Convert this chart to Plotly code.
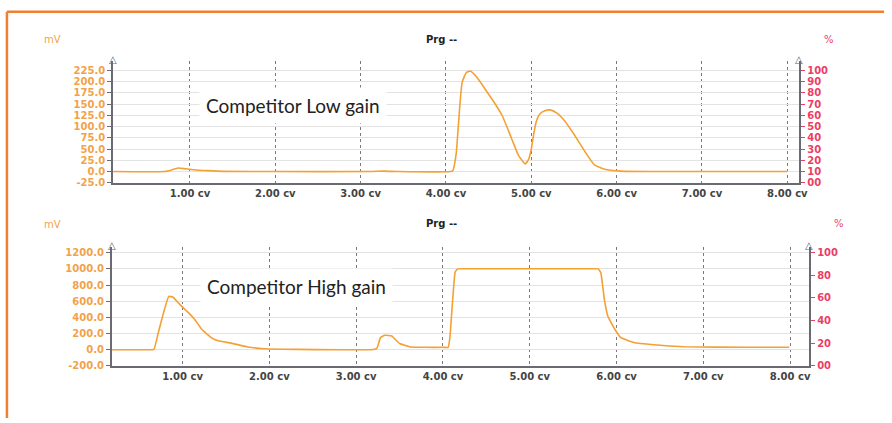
import plotly.graph_objects as go

W, H = 892, 423

# ---- data: Competitor Low gain (top) ----
low_cv = [0.10, 0.70, 0.78, 0.86, 0.95, 1.04, 1.21, 1.40, 2.00, 3.10, 3.27, 3.45,
          4.05, 4.08, 4.12, 4.14, 4.19, 4.24, 4.29, 4.36, 4.46, 4.56, 4.66, 4.77,
          4.85, 4.93, 4.97, 5.00, 5.03, 5.06, 5.10, 5.16, 5.22, 5.30, 5.39, 5.51,
          5.63, 5.74, 5.86, 6.05, 6.50, 8.00]
low_mv = [0, 0, 3, 8, 6, 4, 2, 0.5, 0, 0, 1, 0,
          0, 2, 40, 88, 198, 220, 223, 210, 183, 155, 124, 73,
          36, 17, 28, 50, 85, 112, 128, 135, 137, 130, 113, 80,
          44, 15, 5, 1, 0, 0]

# ---- data: Competitor High gain (bottom) ----
high_cv = [0.18, 0.60, 0.67, 0.72, 0.78, 0.84, 0.89, 0.97, 1.07, 1.14, 1.22, 1.33,
           1.41, 1.56, 1.75, 1.94, 2.30, 3.20, 3.24, 3.28, 3.33, 3.41, 3.50, 3.62,
           3.80, 4.00, 4.06, 4.08, 4.14, 4.17, 4.22, 4.40, 5.00, 5.60, 5.76, 5.79,
           5.82, 5.86, 5.90, 5.98, 6.05, 6.20, 6.43, 6.78, 7.50, 7.99]
high_mv = [0, 0, 5, 211, 456, 660, 650, 558, 456, 375, 253, 150,
           110, 82, 35, 12, 5, 2, 20, 150, 180, 170, 77, 35,
           30, 30, 30, 150, 960, 1000, 1002, 1002, 1002, 1002, 1002, 1000,
           950, 619, 415, 253, 150, 89, 61, 37, 30, 30]

x_ticks = [1, 2, 3, 4, 5, 6, 7, 8]
x_tick_text = ["1.00 cv", "2.00 cv", "3.00 cv", "4.00 cv", "5.00 cv", "6.00 cv", "7.00 cv", "8.00 cv"]
low_y_ticks = [-25, 0, 25, 50, 75, 100, 125, 150, 175, 200, 225]
low_y_text = ["-25.0", "0.0", "25.0", "50.0", "75.0", "100.0", "125.0", "150.0", "175.0", "200.0", "225.0"]
low_pct_ticks = [0, 10, 20, 30, 40, 50, 60, 70, 80, 90, 100]
low_pct_text = ["00", "10", "20", "30", "40", "50", "60", "70", "80", "90", "100"]
high_y_ticks = [-200, 0, 200, 400, 600, 800, 1000, 1200]
high_y_text = ["-200.0", "0.0", "200.0", "400.0", "600.0", "800.0", "1000.0", "1200.0"]
high_pct_ticks = [0, 20, 40, 60, 80, 100]
high_pct_text = ["00", "20", "40", "60", "80", "100"]

LINE = "#F5A033"
ORANGE_TXT = "#F2A24A"
PINK = "#EC3D66"
AXIS = "#6A6A72"
GRID = "#E3E3E3"
VGRID = "#7A7A7A"
FONT = "DejaVu Sans"

def px_x(p):
    return p / W

def px_y(p):
    return 1 - p / H

fig = go.Figure()
fig.add_trace(go.Scatter(x=low_cv, y=low_mv, mode="lines", xaxis="x", yaxis="y",
                         line=dict(color=LINE, width=1.6, shape="spline", smoothing=0.5),
                         hoverinfo="skip", showlegend=False))
fig.add_trace(go.Scatter(x=high_cv, y=high_mv, mode="lines", xaxis="x2", yaxis="y3",
                         line=dict(color=LINE, width=1.6, shape="spline", smoothing=0.3),
                         hoverinfo="skip", showlegend=False))
# invisible traces so that the right-hand % axes are drawn
fig.add_trace(go.Scatter(x=[low_cv[0]], y=[low_pct_ticks[0]], mode="markers", xaxis="x", yaxis="y2",
                         marker=dict(opacity=0), hoverinfo="skip", showlegend=False))
fig.add_trace(go.Scatter(x=[high_cv[0]], y=[high_pct_ticks[0]], mode="markers", xaxis="x2", yaxis="y4",
                         marker=dict(opacity=0), hoverinfo="skip", showlegend=False))

xcommon = dict(showgrid=True, gridcolor=VGRID, griddash="dot", gridwidth=1,
               showline=True, linecolor=AXIS, linewidth=1.5, zeroline=False,
               tickvals=x_ticks, ticktext=x_tick_text, ticks="",
               tickfont=dict(family=FONT, size=10, color="#444", weight="bold"))
ycommon = dict(showgrid=True, gridcolor=GRID, gridwidth=1, zeroline=False,
               showline=True, linecolor=AXIS, linewidth=1.5,
               ticks="outside", ticklen=4, tickcolor=AXIS,
               tickfont=dict(family=FONT, size=10, color=ORANGE_TXT, weight="bold"))
rcommon = dict(showgrid=False, zeroline=False, showline=True, linecolor=AXIS, linewidth=1.5,
               ticks="outside", ticklen=4, tickcolor=PINK, side="right",
               tickfont=dict(family=FONT, size=10, color=PINK, weight="bold"))

top_dom_x = [px_x(114), px_x(806.7)]
top_dom_y = [px_y(185), px_y(62)]
bot_dom_x = [px_x(112.7), px_x(816.7)]
bot_dom_y = [px_y(370.3), px_y(250)]

fig.update_layout(
    width=W, height=H, margin=dict(l=0, r=0, t=0, b=0),
    paper_bgcolor="white", plot_bgcolor="white",
    xaxis=dict(xcommon, domain=top_dom_x, range=[0.0976, 8.143], anchor="y"),
    yaxis=dict(ycommon, domain=top_dom_y, range=[-25, 245], tickvals=low_y_ticks,
               ticktext=low_y_text, anchor="x"),
    yaxis2=dict(rcommon, overlaying="y", anchor="x", range=[0, 108],
                tickvals=low_pct_ticks, ticktext=low_pct_text),
    xaxis2=dict(xcommon, domain=bot_dom_x, range=[0.183, 8.222], anchor="y3"),
    yaxis3=dict(ycommon, domain=bot_dom_y, range=[-200, 1270], tickvals=high_y_ticks,
                ticktext=high_y_text, anchor="x2"),
    yaxis4=dict(rcommon, overlaying="y3", anchor="x2", range=[0, 105],
                tickvals=high_pct_ticks, ticktext=high_pct_text),
)

ann = []
def label(text, x, y, color, size=10, weight="normal", **kw):
    ann.append(dict(text=text, x=px_x(x), y=px_y(y), xref="paper", yref="paper",
                    showarrow=False, xanchor="center", yanchor="middle",
                    font=dict(family=FONT, size=size, color=color, weight=weight), **kw))

label("mV", 53, 40, ORANGE_TXT, 10)
label("Prg --", 445, 40, "#222", 10, "bold")
label("%", 837, 40, PINK, 10)
label("mV", 53, 227, ORANGE_TXT, 10)
label("Prg --", 445, 226, "#222", 10, "bold")
label("%", 847, 226, PINK, 10)
for (xx, yy) in [(114, 60), (806.7, 60), (112.7, 248), (816.7, 248)]:
    label("△", xx, yy, AXIS, 10)

for text, cx, cy in [("Competitor Low gain", 295.5, 106.5), ("Competitor High gain", 299, 290)]:
    ann.append(dict(text=text, x=px_x(cx), y=px_y(cy), xref="paper", yref="paper",
                    showarrow=False, xanchor="center", yanchor="middle",
                    bgcolor="white", borderpad=6,
                    font=dict(family="Lato", size=19, color="#222")))

fig.update_layout(annotations=ann)

BORDER = "#F0802E"
fig.update_layout(shapes=[
    dict(type="line", xref="paper", yref="paper", x0=px_x(7), x1=1.0, y0=px_y(12), y1=px_y(12),
         line=dict(color=BORDER, width=2.5)),
    dict(type="line", xref="paper", yref="paper", x0=px_x(7), x1=px_x(7), y0=px_y(12), y1=0,
         line=dict(color=BORDER, width=2.5)),
])

fig.write_html("out.html")
